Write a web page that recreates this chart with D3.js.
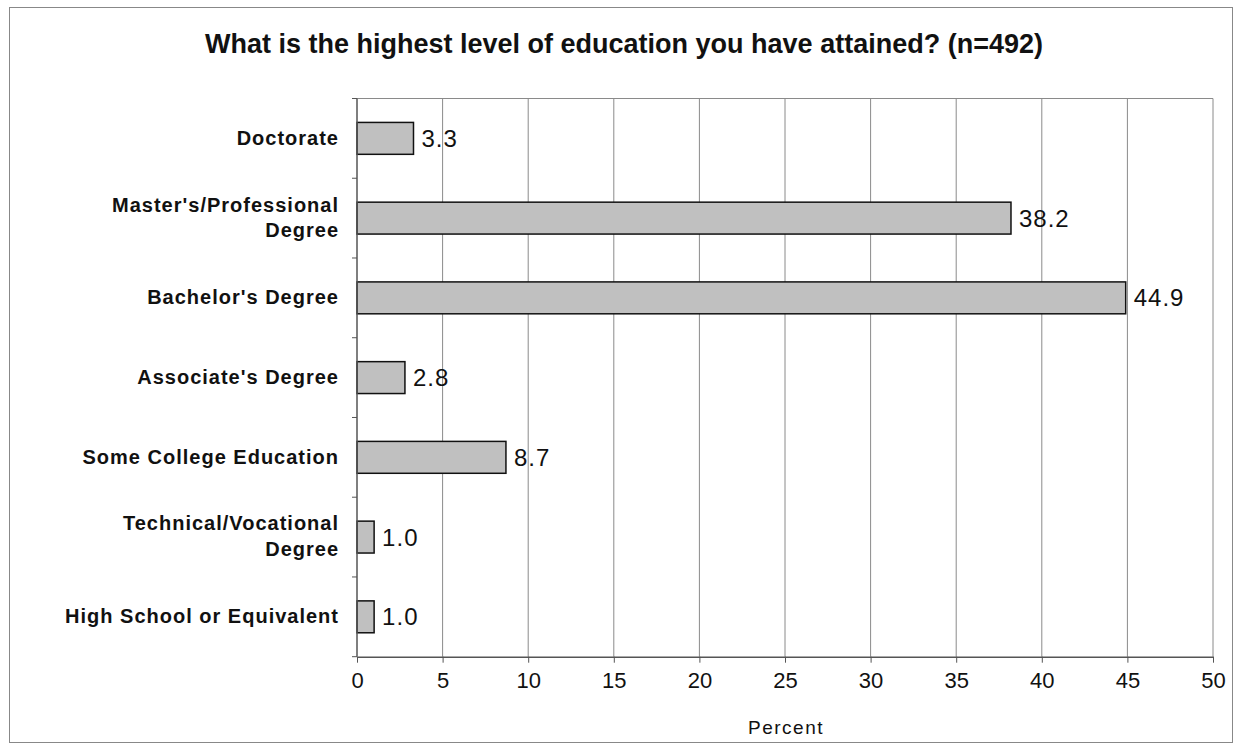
<!DOCTYPE html>
<html><head><meta charset="utf-8">
<script src="https://cdn.jsdelivr.net/npm/d3@7"></script>
<style>body{margin:0;background:#fff}</style>
</head><body>
<svg id="c" width="1238" height="744"></svg>
<script>
const categories = [["Doctorate"],["Master's/Professional","Degree"],["Bachelor's Degree"],["Associate's Degree"],["Some College Education"],["Technical/Vocational","Degree"],["High School or Equivalent"]];
const values = [3.3, 38.2, 44.9, 2.8, 8.7, 1.0, 1.0];
const xTicks = [0,5,10,15,20,25,30,35,40,45,50];
const title = "What is the highest level of education you have attained? (n=492)";
const xLabel = "Percent";

const FONT = "Liberation Sans, Arial, sans-serif";
const svg = d3.select("#c");
const L = 357, R = 1213, T = 98.5, B = 656.7;
svg.append("rect").attr("x",9.5).attr("y",7.5).attr("width",1223).attr("height",735)
  .attr("fill","#fff").attr("stroke","#888").attr("stroke-width",1);

const x = d3.scaleLinear().domain([0,50]).range([L,R]);
const keys = categories.map((c,i)=>i);
const y = d3.scaleBand().domain(keys).range([T,B]).paddingInner(0.6).paddingOuter(0.3);
const yb = d3.scaleBand().domain(keys).range([T,B]);

// grid
svg.append("g").selectAll("line").data(xTicks.slice(1)).join("line")
  .attr("x1",d=>x(d)).attr("x2",d=>x(d)).attr("y1",T).attr("y2",B)
  .attr("stroke","#8a8a8a").attr("stroke-width",1);
svg.append("line").attr("x1",L).attr("x2",R).attr("y1",T).attr("y2",T).attr("stroke","#8a8a8a");

// bars
svg.append("g").selectAll("rect").data(values).join("rect")
  .attr("x",x(0)).attr("y",(d,i)=>y(i)).attr("width",d=>x(d)-x(0)).attr("height",y.bandwidth())
  .attr("fill","#c0c0c0").attr("stroke","#111").attr("stroke-width",1.5);

// value labels
svg.append("g").selectAll("text").data(values).join("text")
  .attr("x",d=>x(d)+8).attr("y",(d,i)=>y(i)+y.bandwidth()/2).attr("dy","0.36em")
  .attr("font-family",FONT).attr("font-size",24).attr("letter-spacing",1).attr("fill","#111")
  .text(d=>d.toFixed(1));

// x axis
const xa = svg.append("g").attr("transform",`translate(0,${B})`)
  .call(d3.axisBottom(x).tickValues(xTicks).tickSize(6).tickPadding(10).tickSizeOuter(0));
xa.select(".domain").attr("stroke","#555").attr("stroke-width",1.5);
xa.selectAll(".tick line").attr("stroke","#555");
xa.selectAll("text").attr("font-family",FONT).attr("font-size",22).attr("fill","#111");

// y axis
const ya = svg.append("g").attr("transform",`translate(${L},0)`);
ya.append("line").attr("x1",0).attr("x2",0).attr("y1",T).attr("y2",B).attr("stroke","#555").attr("stroke-width",1.5);
ya.selectAll(".t").data(keys.concat([keys.length])).join("line")
  .attr("x1",-5).attr("x2",0)
  .attr("y1",d=>d<keys.length?yb(d):B).attr("y2",d=>d<keys.length?yb(d):B)
  .attr("stroke","#555");

// category labels
const cl = svg.append("g").selectAll("text").data(categories).join("text")
  .attr("text-anchor","end").attr("font-family",FONT)
  .attr("font-size",20).attr("font-weight","bold").attr("letter-spacing",1).attr("fill","#111")
  .attr("x",339).attr("y",(d,i)=>yb(i)+yb.bandwidth()/2);
cl.each(function(d){
  const t = d3.select(this);
  const n = d.length;
  d.forEach((s,j)=>{
    t.append("tspan").attr("x",339).attr("dy", j===0 ? (n===1 ? "0.33em" : "-0.33em") : "1.28em").text(s);
  });
});

// title
svg.append("text").attr("x",624).attr("y",53).attr("text-anchor","middle")
  .attr("font-family",FONT).attr("font-size",27).attr("font-weight","bold")
  .attr("fill","#111").text(title);

// x label
svg.append("text").attr("x",786).attr("y",734).attr("text-anchor","middle")
  .attr("font-family",FONT).attr("font-size",19).attr("letter-spacing",1.5).attr("fill","#111")
  .text(xLabel);
</script>
</body></html>
